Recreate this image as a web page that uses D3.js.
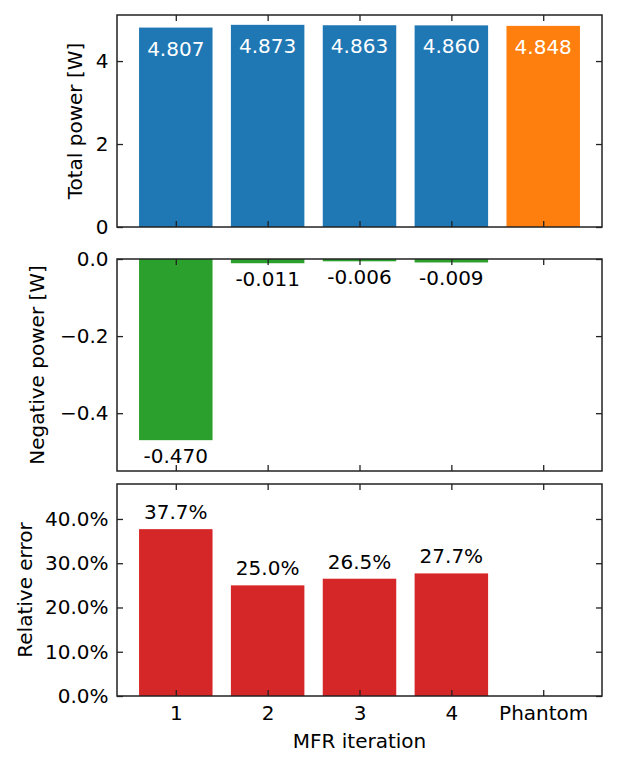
<!DOCTYPE html>
<html>
<head>
<meta charset="utf-8">
<script src="https://cdn.jsdelivr.net/npm/d3@7"></script>
<style>
  body { margin: 0; background: #fff; }
  text { font-family: "DejaVu Sans", sans-serif; }
</style>
</head>
<body>
<script>
const width = 617, height = 767;

// data
const categories = ["1", "2", "3", "4", "Phantom"];
const totalPower = [4.807, 4.873, 4.863, 4.860, 4.848];
const negativePower = [-0.470, -0.011, -0.006, -0.009, null];
const relativeError = [0.377, 0.250, 0.265, 0.277, null];
const totalTicks = [0, 2, 4];
const negTicks = [0, -0.2, -0.4];
const errTicks = [0, 0.1, 0.2, 0.3, 0.4];

const left = 117, right = 602;
const fontSize = 20;
const ink = "#222";

const svg = d3.select("body")
    .append("svg")
    .attr("width", width)
    .attr("height", height);

// bars sit at index 0..4, width 0.8, with matplotlib's 5% margin
const x = d3.scaleLinear().domain([-0.64, 4.64]).range([left, right]);
const barW = x(0.8) - x(0);

const panels = [
    { top: 15, bottom: 227, domain: [0, 5.11], ticks: totalTicks, fmt: d3.format("d"),
      label: "Total power [W]", labelX: 82 },
    { top: 259, bottom: 471, domain: [-0.55, 0], ticks: negTicks, fmt: d => d === 0 ? "0.0" : d3.format(".1f")(d),
      label: "Negative power [W]", labelX: 44 },
    { top: 484, bottom: 696, domain: [0, 0.479], ticks: errTicks, fmt: d3.format(".1%"),
      label: "Relative error", labelX: 32 }
];

panels.forEach(p => {
    p.y = d3.scaleLinear().domain(p.domain).range([p.bottom, p.top]);
});

// panel 1: total power
const p1 = panels[0];
const g1 = svg.append("g");
g1.selectAll("rect")
    .data(totalPower)
    .enter()
    .append("rect")
    .attr("x", (d, i) => x(i) - barW / 2)
    .attr("width", barW)
    .attr("y", d => p1.y(d))
    .attr("height", d => p1.y(0) - p1.y(d))
    .attr("fill", (d, i) => categories[i] === "Phantom" ? "#ff7f0e" : "#1f77b4");
g1.selectAll("text")
    .data(totalPower)
    .enter()
    .append("text")
    .attr("x", (d, i) => x(i))
    .attr("y", d => p1.y(d) + 28)
    .attr("text-anchor", "middle")
    .attr("font-size", fontSize)
    .attr("fill", "#fff")
    .text(d => d.toFixed(3));

// panel 2: negative power
const p2 = panels[1];
const neg = negativePower.map((v, i) => ({ v, i })).filter(d => d.v !== null);
const g2 = svg.append("g");
g2.selectAll("rect")
    .data(neg)
    .enter()
    .append("rect")
    .attr("x", d => x(d.i) - barW / 2)
    .attr("width", barW)
    .attr("y", p2.y(0))
    .attr("height", d => p2.y(d.v) - p2.y(0))
    .attr("fill", "#2ca02c");
g2.selectAll("text")
    .data(neg)
    .enter()
    .append("text")
    .attr("x", d => x(d.i))
    .attr("y", d => p2.y(d.v) + 23)
    .attr("text-anchor", "middle")
    .attr("font-size", fontSize)
    .attr("fill", "#000")
    .text(d => d.v.toFixed(3));

// panel 3: relative error
const p3 = panels[2];
const err = relativeError.map((v, i) => ({ v, i })).filter(d => d.v !== null);
const g3 = svg.append("g");
g3.selectAll("rect")
    .data(err)
    .enter()
    .append("rect")
    .attr("x", d => x(d.i) - barW / 2)
    .attr("width", barW)
    .attr("y", d => p3.y(d.v))
    .attr("height", d => p3.y(0) - p3.y(d.v))
    .attr("fill", "#d62728");
g3.selectAll("text")
    .data(err)
    .enter()
    .append("text")
    .attr("x", d => x(d.i))
    .attr("y", d => p3.y(d.v) - 10)
    .attr("text-anchor", "middle")
    .attr("font-size", fontSize)
    .attr("fill", "#000")
    .text(d => (d.v * 100).toFixed(1) + "%");

// axes: inward ticks on all four sides, frame drawn as a rect
const tickLen = 6;
panels.forEach((p, k) => {
    const isLast = k === panels.length - 1;
    const idx = d3.range(categories.length);

    const bottomAxis = d3.axisBottom(x).tickValues(idx).tickSizeInner(-tickLen).tickSizeOuter(0)
        .tickPadding(9.5).tickFormat(i => isLast ? categories[i] : "");
    const topAxis = d3.axisTop(x).tickValues(idx).tickSizeInner(-tickLen).tickSizeOuter(0).tickFormat("");
    const leftAxis = d3.axisLeft(p.y).tickValues(p.ticks).tickSizeInner(-tickLen).tickSizeOuter(0)
        .tickPadding(8.5).tickFormat(p.fmt);
    const rightAxis = d3.axisRight(p.y).tickValues(p.ticks).tickSizeInner(-tickLen).tickSizeOuter(0).tickFormat("");

    const axes = [
        svg.append("g").attr("transform", `translate(0,${p.bottom})`).call(bottomAxis),
        svg.append("g").attr("transform", `translate(0,${p.top})`).call(topAxis),
        svg.append("g").attr("transform", `translate(${left},0)`).call(leftAxis),
        svg.append("g").attr("transform", `translate(${right},0)`).call(rightAxis)
    ];
    axes.forEach(a => {
        a.select(".domain").remove();
        a.selectAll(".tick line").attr("stroke", ink).attr("stroke-width", 1.3);
        a.selectAll(".tick text")
            .attr("font-family", "DejaVu Sans")
            .attr("font-size", fontSize)
            .attr("fill", "#000");
    });

    svg.append("rect")
        .attr("x", left)
        .attr("y", p.top)
        .attr("width", right - left)
        .attr("height", p.bottom - p.top)
        .attr("fill", "none")
        .attr("stroke", ink)
        .attr("stroke-width", 1.5);

    svg.append("text")
        .attr("transform", `translate(${p.labelX},${(p.top + p.bottom) / 2}) rotate(-90)`)
        .attr("text-anchor", "middle")
        .attr("font-size", fontSize)
        .attr("fill", "#000")
        .text(p.label);
});

svg.append("text")
    .attr("x", (left + right) / 2)
    .attr("y", 748)
    .attr("text-anchor", "middle")
    .attr("font-size", fontSize)
    .attr("fill", "#000")
    .text("MFR iteration");
</script>
</body>
</html>
